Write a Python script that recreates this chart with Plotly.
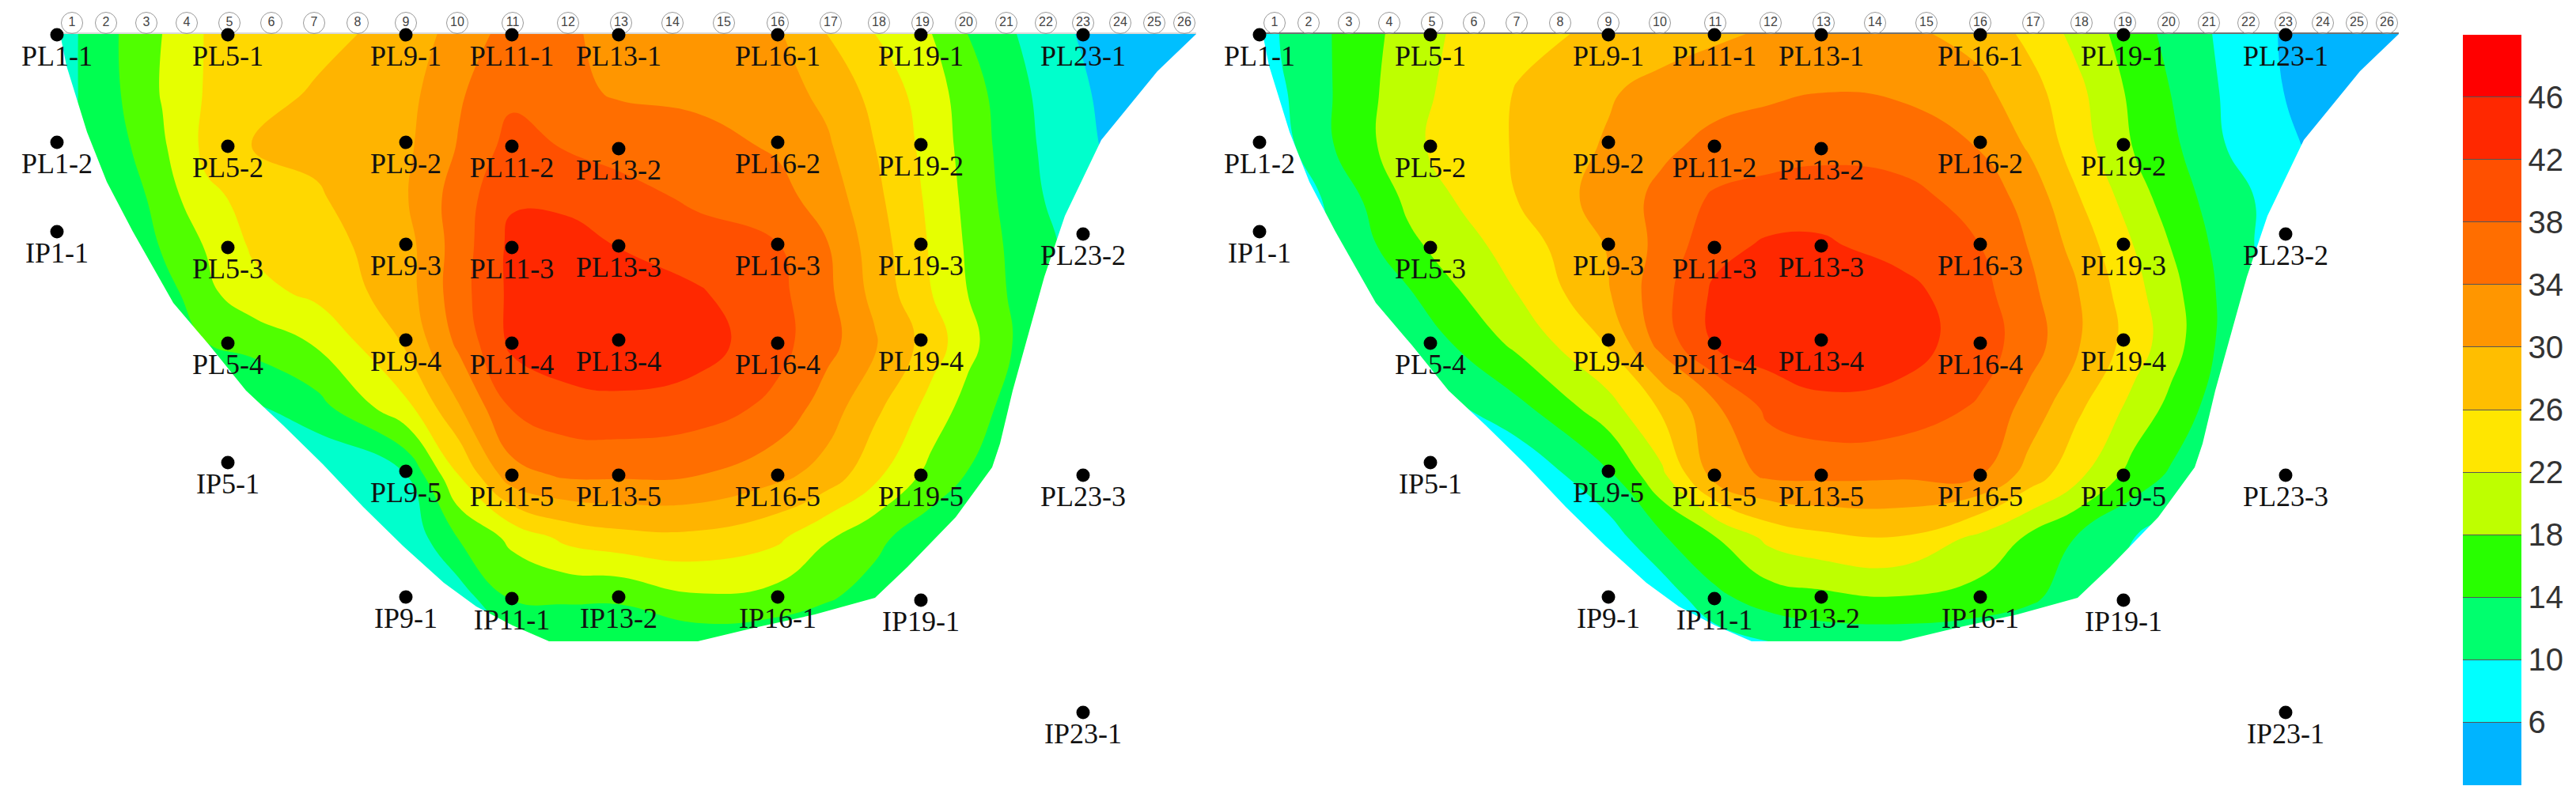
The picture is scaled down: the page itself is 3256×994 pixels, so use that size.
"""
Two filled contour sections of the same gallery, with gauge points and a shared colour bar.
"""
import plotly.graph_objects as go

WIDTH = 3256
HEIGHT = 994
PANEL_OFFSET = 1520
PAGE_MARGIN = 8  # the page body keeps its default margin

# grid the contour values were read on (image pixels of the left panel)
grid_x = [72, 100, 150, 205, 260, 320, 400, 513, 580, 647, 715, 782, 880, 983, 1045, 1106, 1178, 1223, 1285, 1359, 1512]
grid_y = [43, 115, 185, 250, 311, 370, 432, 515, 601, 680, 755, 811]

z_left = [
    [6, 10.2, 14, 18, 22.2, 23.5, 24.8, 27.4, 31.8, 35.5, 34.2, 33.6, 33, 30.5, 26, 22, 18, 14, 10, 6, 2],
    [6, 10.2, 13.8, 18.3, 22.3, 24.2, 26.4, 28.6, 33.5, 37, 35, 33.5, 33, 31.5, 29, 24.6, 19.8, 15.9, 11.1, 6.6, 2],
    [6, 10, 12.7, 17.4, 22.9, 26.1, 27, 29.2, 34.3, 39.5, 37.7, 36.5, 35.5, 33.5, 30.6, 26, 20.4, 16.5, 11.6, 7, 2],
    [5, 8, 11, 15.7, 21.2, 23, 25.5, 29.7, 36, 41.5, 41.3, 39.6, 37.3, 35.3, 32.3, 27, 21, 17, 12, 7.7, 2],
    [4, 6, 10, 14.4, 18.2, 22.6, 24.3, 28.5, 36, 43, 43.2, 41.9, 39.8, 38.2, 34.3, 28, 21.5, 17.5, 12.7, 8.9, 2],
    [3, 5, 8.5, 12, 17, 20.6, 23, 28.2, 36.4, 43, 44, 44, 42.5, 39, 35, 28.7, 22, 18, 13, 9, 2],
    [2, 4, 7, 10, 14, 15.5, 18.5, 26.6, 35, 43, 44.5, 45, 44, 39.3, 35.5, 30.5, 24, 19.5, 13.5, 9, 2],
    [1, 2, 4, 6, 8, 9.5, 12.5, 21, 29.7, 38.3, 40.5, 41, 40, 37, 32, 27, 20.5, 16.5, 12, 8, 2],
    [1, 1, 2, 3, 4, 5, 5.8, 9.9, 22, 32.4, 34.6, 34.6, 34.1, 31, 28.5, 23, 16.5, 13.8, 10, 6, 2],
    [1, 1, 1, 2, 2, 3, 4, 7, 14.2, 19, 23, 24.6, 25, 22.8, 18.4, 15, 11.5, 9.5, 7, 4, 2],
    [1, 1, 1, 1, 1, 2, 3, 4, 8, 14.5, 14.6, 14.6, 17.5, 16.5, 14.5, 12.5, 9, 7, 5, 3, 2],
    [1, 1, 1, 1, 1, 1, 2, 2, 5, 9, 11, 11, 11.5, 11, 10.5, 9, 7, 5, 4, 3, 2],
]

z_right = [
    [6, 10.5, 13.2, 16.5, 19.7, 22.6, 24.8, 26.9, 27.8, 29.3, 30.5, 31, 31, 28.6, 25, 20.8, 15.7, 13, 9.5, 6, 2],
    [6, 9.5, 13, 16.8, 20.4, 23.2, 26.3, 29.5, 31.5, 32.6, 33.3, 33.9, 33.5, 31, 27.6, 23, 16.9, 14, 10, 6.2, 2],
    [6, 8.5, 12.8, 16.8, 20.9, 23.8, 26.4, 30.5, 33.2, 35.1, 36, 36.7, 36.2, 33.8, 29.5, 24, 17.7, 15, 10.4, 7, 2],
    [5, 7, 10, 14.3, 19, 22.2, 26.2, 31.8, 35, 38.6, 39.7, 40.2, 39.5, 36.3, 32.5, 26.3, 19.8, 16.2, 12.2, 8.5, 2],
    [4, 6, 9, 12.8, 17, 20, 24, 30.3, 35.3, 40.7, 42.6, 42.6, 40.6, 38, 33.8, 28.5, 21.9, 18, 13, 8, 2],
    [3, 5, 8, 10, 13.6, 17.6, 22.2, 29.7, 36.6, 42.7, 44, 44.5, 43.5, 39.3, 35, 30.2, 23.2, 19.5, 13.6, 8, 2],
    [2, 4, 7, 9, 11, 14.4, 19.3, 26.5, 35.7, 42.6, 44.4, 45, 44, 39.9, 36, 30.5, 24, 20, 13.5, 9, 2],
    [1, 2, 4, 6.5, 8, 9.5, 13, 20.5, 26.6, 33.2, 39, 41, 40.5, 37.5, 32.5, 26.8, 20.7, 17, 12, 8, 2],
    [1, 1, 2, 6.5, 6.5, 6.5, 6.5, 13.3, 21, 31.5, 34.7, 34.9, 34.6, 34.1, 28.3, 23, 16.2, 13.5, 10, 6, 2],
    [1, 1, 1, 6.5, 6.5, 6.5, 6.5, 8, 13.4, 17.7, 23, 25, 25.8, 21, 17.3, 13.7, 10, 8, 6, 4, 2],
    [1, 1, 1, 1, 1, 2, 6.5, 6.5, 7.5, 13, 16, 17, 17.9, 16.5, 14.8, 12, 9, 7, 5, 3, 2],
    [1, 1, 1, 1, 1, 1, 2, 6.5, 6.5, 8, 10, 11.5, 11.5, 11, 10.5, 9, 7, 5, 4, 3, 2],
]

# outline of the excavated section, top left round to top right
outline_x = [76, 84, 110, 135, 168, 219, 265, 311, 357, 408, 459, 510, 561, 602, 648, 694, 882, 953, 1030, 1106, 1147, 1208, 1254, 1264, 1280, 1320, 1346, 1392, 1463, 1512]
outline_y = [43, 83, 167, 230, 293, 383, 437, 494, 537, 587, 641, 691, 737, 767, 791, 811, 811, 794, 777, 756, 717, 654, 591, 561, 494, 350, 273, 177, 90, 43]

point_names = [
    "PL1-1", "PL1-2", "IP1-1",
    "PL5-1", "PL5-2", "PL5-3", "PL5-4", "IP5-1",
    "PL9-1", "PL9-2", "PL9-3", "PL9-4", "PL9-5", "IP9-1",
    "PL11-1", "PL11-2", "PL11-3", "PL11-4", "PL11-5", "IP11-1",
    "PL13-1", "PL13-2", "PL13-3", "PL13-4", "PL13-5", "IP13-2",
    "PL16-1", "PL16-2", "PL16-3", "PL16-4", "PL16-5", "IP16-1",
    "PL19-1", "PL19-2", "PL19-3", "PL19-4", "PL19-5", "IP19-1",
    "PL23-1", "PL23-2", "PL23-3", "IP23-1",
]
point_x = [
    72, 72, 72,
    288, 288, 288, 288, 288,
    513, 513, 513, 513, 513, 513,
    647, 647, 647, 647, 647, 647,
    782, 782, 782, 782, 782, 782,
    983, 983, 983, 983, 983, 983,
    1164, 1164, 1164, 1164, 1164, 1164,
    1369, 1369, 1369, 1369,
]
point_y = [
    44, 180, 293,
    44, 185, 313, 434, 585,
    44, 180, 309, 430, 596, 755,
    44, 185, 313, 434, 601, 757,
    44, 188, 311, 430, 601, 755,
    44, 180, 309, 434, 601, 755,
    44, 183, 309, 430, 601, 759,
    44, 296, 601, 901,
]

axis_numbers = [str(n) for n in range(1, 27)]
axis_x = [91, 134, 185, 236, 290, 343, 397, 452, 513, 578, 648, 718, 785, 850, 915, 983, 1050, 1111, 1166, 1221, 1272, 1322, 1369, 1416, 1459, 1497]
axis_y = [29] * 26

colorbar_ticks = [6, 10, 14, 18, 22, 26, 30, 34, 38, 42, 46]
colorbar_range = [2, 50]

bar_colors = ["#00B4FF", "#00FFFF", "#00FF6E", "#28FF00", "#BEFF00", "#FFE600",
              "#FFBE00", "#FF9600", "#FF6E00", "#FF5000", "#FF2800", "#FF0000"]
left_colors = ["#00BFFF", "#00FFCC", "#00FF50", "#50FF00", "#E6FF00", "#FFD800",
               "#FFB400", "#FF9600", "#FF6E00", "#FF5000", "#FF2800", "#FF0000"]


def contour_scale(colors):
    # plotly maps the fill of each band to evenly spaced stops
    return [[i / (len(colors) - 1), c] for i, c in enumerate(colors)]


def stepped_scale(colors):
    scale = []
    for i, c in enumerate(colors):
        scale.append([i / len(colors), c])
        scale.append([(i + 1) / len(colors), c])
    return scale


def add_panel(fig, z, colors, offset, top_color):
    fig.add_trace(go.Contour(
        x=[x + offset for x in grid_x],
        y=grid_y,
        z=z,
        colorscale=contour_scale(colors),
        contours=dict(start=6, end=46, size=4, coloring="fill", showlines=False),
        line=dict(width=0, smoothing=1.3),
        showscale=False,
    ))
    # white cover for everything under the section outline
    fig.add_trace(go.Scatter(
        x=[x + offset for x in outline_x] + [1516 + offset, 1516 + offset, 66 + offset, 66 + offset],
        y=outline_y + [43, 830, 830, 43],
        mode="lines",
        line=dict(width=0),
        fill="toself",
        fillcolor="white",
    ))
    fig.add_trace(go.Scatter(
        x=[outline_x[0] + offset, outline_x[-1] + offset],
        y=[outline_y[0] - 1, outline_y[-1] - 1],
        mode="lines",
        line=dict(color=top_color, width=1.5),
    ))
    fig.add_trace(go.Scatter(
        x=[x + offset for x in axis_x],
        y=axis_y,
        mode="markers+text",
        text=axis_numbers,
        textposition="middle center",
        textfont=dict(family="Liberation Sans Narrow, Liberation Sans", size=16, color="#444444"),
        marker=dict(size=27, color="rgba(255,255,255,0)", line=dict(color="#999999", width=1)),
    ))
    fig.add_trace(go.Scatter(
        x=[x + offset for x in point_x],
        y=point_y,
        mode="markers+text",
        text=point_names,
        textposition="bottom center",
        textfont=dict(family="Liberation Serif", size=36, color="#111111"),
        marker=dict(size=17, color="black"),
    ))


fig = go.Figure()
add_panel(fig, z_left, left_colors, 0, "#CCCCCC")
add_panel(fig, z_right, bar_colors, PANEL_OFFSET, "#444444")

fig.add_trace(go.Scatter(
    x=[3150, 3150],
    y=[500, 500],
    mode="markers",
    marker=dict(
        size=1,
        opacity=0,
        color=colorbar_range,
        cmin=colorbar_range[0],
        cmax=colorbar_range[1],
        colorscale=stepped_scale(bar_colors),
        showscale=True,
        colorbar=dict(
            x=(3113 - PAGE_MARGIN) / (WIDTH - PAGE_MARGIN),
            xanchor="left",
            xpad=0,
            y=1 - (43.5 - PAGE_MARGIN) / (HEIGHT - PAGE_MARGIN),
            yanchor="top",
            ypad=0,
            lenmode="pixels",
            len=949,
            thicknessmode="pixels",
            thickness=74,
            outlinewidth=0,
            tickvals=colorbar_ticks,
            ticks="inside",
            ticklen=74,
            tickwidth=1,
            tickcolor="#555555",
            tickfont=dict(family="Liberation Sans", size=40, color="#333333"),
        ),
    ),
))

fig.update_layout(
    width=WIDTH - PAGE_MARGIN,
    height=HEIGHT - PAGE_MARGIN,
    margin=dict(l=0, r=0, t=0, b=0, autoexpand=False),
    paper_bgcolor="white",
    plot_bgcolor="white",
    showlegend=False,
    xaxis=dict(range=[PAGE_MARGIN, WIDTH], visible=False, domain=[0, 1]),
    yaxis=dict(range=[HEIGHT, PAGE_MARGIN], visible=False, domain=[0, 1]),
)

fig.write_html("out.html")
